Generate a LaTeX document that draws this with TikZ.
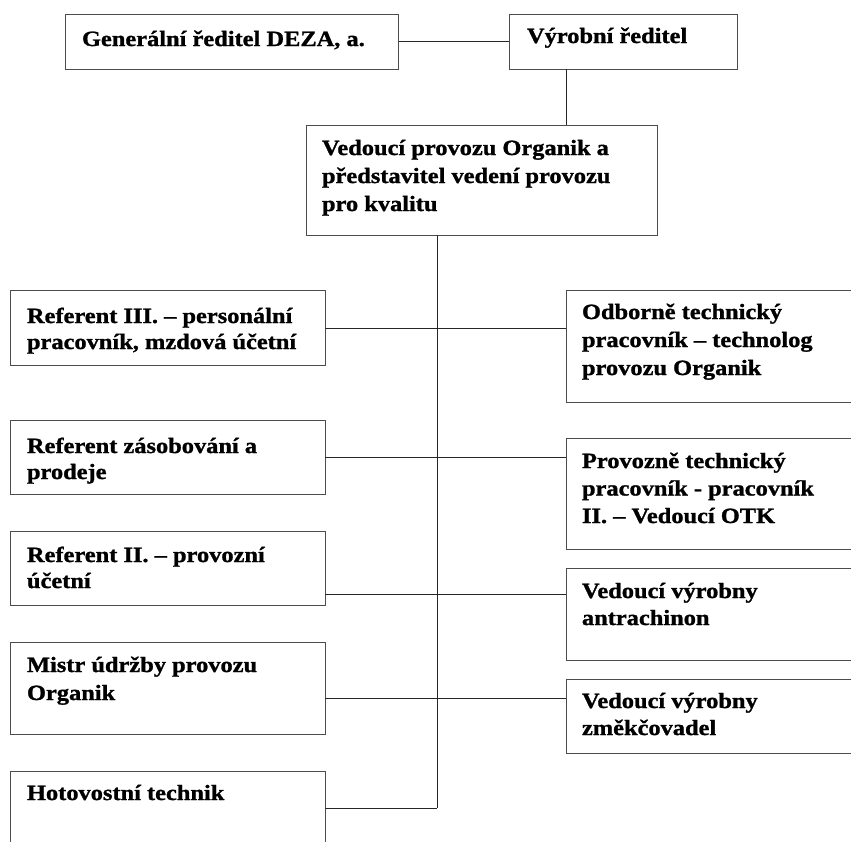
\documentclass[tikz,border=0pt]{standalone}
\usepackage{fontspec}
\setmainfont{Liberation Serif}[FakeStretch=1.12, BoldFeatures={FakeBold=1.2}]
\begin{document}
\begin{tikzpicture}[x=1pt,y=-1pt,
  box/.style={draw=black!70, line width=1pt, rectangle, inner sep=0pt, outer sep=0pt, anchor=north west},
  lbl/.style={inner sep=0pt, outer sep=0pt, anchor=base west, font=\fontsize{21.8pt}{28pt}\selectfont\bfseries},
  link/.style={draw=black!85, line width=1pt}]
\useasboundingbox (0,0) rectangle (851,841);
% box: name, left, top, right, bottom
\newcommand\orgbox[5]{%
  \node[box, minimum width=#4-#2, minimum height=#5-#3] (#1) at (#2,#3) {};}
% label: name, x, first baseline, line spacing, lines
\newcommand\orgtext[5]{%
  \node[lbl] (#1) at (#2,#3) {\vtop{\baselineskip=#4pt\lineskiplimit=-20pt #5}};}

\begin{scope}
\clip (0,0) rectangle (851,841);
% top level
\orgbox{gen}{65}{14}{398.5}{69}
\orgbox{vyr}{509}{14}{737}{69}
\orgbox{ved}{306}{125}{657}{235}
% left column
\orgbox{l1}{10.5}{290}{325}{365}
\orgbox{l2}{10.5}{420}{325}{494}
\orgbox{l3}{10.5}{531}{325}{605}
\orgbox{l4}{10.5}{642}{325}{734}
\orgbox{l5}{10.5}{771}{325}{870}
% right column
\orgbox{r1}{566}{290}{870}{402}
\orgbox{r2}{566}{438}{870}{549}
\orgbox{r3}{566}{568}{870}{660}
\orgbox{r4}{566}{679}{870}{753}
\end{scope}

\orgtext{gen-t}{82}{46}{28}{\hbox{Generální ředitel DEZA, a.}}
\orgtext{vyr-t}{527}{43}{28}{\hbox{Výrobní ředitel}}
\orgtext{ved-t}{322}{155}{28}{\hbox{Vedoucí provozu Organik a}\hbox{představitel vedení provozu}\hbox{pro kvalitu}}
\orgtext{l1-t}{27}{323}{26}{\hbox{Referent III. – personální}\hbox{pracovník, mzdová účetní}}
\orgtext{l2-t}{27}{453}{26}{\hbox{Referent zásobování a}\hbox{prodeje}}
\orgtext{l3-t}{27}{562}{26}{\hbox{Referent II. – provozní}\hbox{účetní}}
\orgtext{l4-t}{27}{672}{28}{\hbox{Mistr údržby provozu}\hbox{Organik}}
\orgtext{l5-t}{27}{800}{28}{\hbox{Hotovostní technik}}
\orgtext{r1-t}{582}{319}{28}{\hbox{Odborně technický}\hbox{pracovník – technolog}\hbox{provozu Organik}}
\orgtext{r2-t}{582}{468}{27.5}{\hbox{Provozně technický}\hbox{pracovník - pracovník}\hbox{II. – Vedoucí OTK}}
\orgtext{r3-t}{582}{598}{27}{\hbox{Vedoucí výrobny}\hbox{antrachinon}}
\orgtext{r4-t}{582}{708}{27}{\hbox{Vedoucí výrobny}\hbox{změkčovadel}}

% junction points
\coordinate (down) at (566,0);
\coordinate (trunk) at (437,0);
\coordinate (j1) at (437,328);
\coordinate (j2) at (437,457);
\coordinate (j3) at (437,594);
\coordinate (j4) at (437,698);
\coordinate (j5) at (437,808);

% connectors
\draw[link] (gen.east) -- (vyr.west);
\draw[link] (vyr.south -| down) -- (ved.north -| down);
\draw[link] (ved.south -| trunk) -- (j5);
\draw[link] (l1.east |- j1) -- (r1.west |- j1);
\draw[link] (l2.east |- j2) -- (r2.west |- j2);
\draw[link] (l3.east |- j3) -- (r3.west |- j3);
\draw[link] (l4.east |- j4) -- (r4.west |- j4);
\draw[link] (l5.east |- j5) -- (j5);
\end{tikzpicture}
\end{document}
